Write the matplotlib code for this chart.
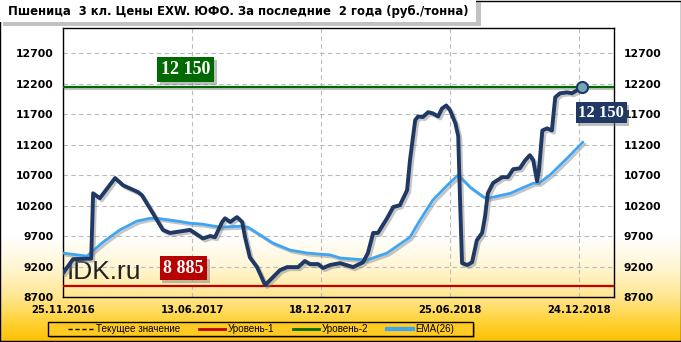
import numpy as np
import matplotlib.pyplot as plt
import matplotlib.patheffects as pe
from matplotlib.colors import LinearSegmentedColormap
from matplotlib.lines import Line2D
from matplotlib.patches import Rectangle

plt.rcParams['font.family'] = ['DejaVu Sans']

# price, rub/t (x = week number from 25.11.2016)
price_week = [0, 2.1, 5.9, 6.3, 7.7, 10.9, 12.6, 15.7, 16.5, 18.8, 20.9, 22.4, 26.6,
              29.3, 30.8, 31.8, 33.3, 33.9, 35.0, 36.4, 37.5, 38.1, 39.1, 40.6, 42.3,
              44.0, 45.4, 46.9, 49.2, 50.6, 51.7, 53.4, 54.4, 55.9, 58.0, 60.7, 62.8,
              63.8, 64.9, 65.9, 67.8, 69.1, 70.5, 72.0, 72.6, 73.7, 74.3, 75.3, 76.4,
              77.4, 78.5, 79.3, 80.2, 81.0, 82.1, 82.7, 83.1, 83.5, 84.6, 85.6, 86.6,
              87.7, 88.3, 88.9, 90.0, 91.9, 93.1, 94.2, 95.6, 96.7, 97.7, 98.4, 99.2,
              99.6, 100.3, 101.3, 102.3, 103.0, 104.0, 105.5, 106.5, 107.6, 108.5]
price_val = [9090, 9320, 9330, 10400, 10320, 10650, 10530, 10420, 10370, 10075, 9800, 9750, 9800,
             9660, 9700, 9680, 9930, 9990, 9930, 10010, 9930, 9680, 9350, 9190, 8895,
             9030, 9140, 9190, 9190, 9290, 9240, 9240, 9175, 9225, 9255, 9190, 9270,
             9420, 9750, 9750, 9990, 10175, 10205, 10450, 10940, 11600, 11660, 11650, 11730,
             11710, 11660, 11790, 11840, 11760, 11550, 11340, 10240, 9255, 9225, 9270, 9630,
             9750, 10010, 10400, 10570, 10665, 10665, 10795, 10810, 10940, 11025, 10940, 10600,
             10780, 11430, 11465, 11430, 11975, 12040, 12055, 12040, 12090, 12150]

ema_week = [0, 5.0, 8.4, 11.9, 15.5, 18.2, 19.7, 23.9, 26.6, 29.1, 32.9, 37.1, 38.7,
            40.6, 43.9, 47.5, 51.1, 55.9, 58.0, 63.6, 67.8, 72.6, 74.7, 77.4, 80.4,
            82.7, 85.2, 88.0, 89.0, 93.6, 98.4, 99.6, 101.9, 105.5, 108.8]
ema_val = [9420, 9370, 9600, 9800, 9945, 9990, 9990, 9945, 9910, 9895, 9845, 9860, 9845,
           9750, 9585, 9470, 9420, 9390, 9340, 9305, 9420, 9680, 9960, 10290, 10530,
           10700, 10500, 10340, 10320, 10400, 10565, 10565, 10700, 10975, 11240]

level1 = 8885
level2 = 12150
current = 12150

tick_pos = [0, 27, 54, 81, 108]
tick_lab = ['25.11.2016', '13.06.2017', '18.12.2017', '25.06.2018', '24.12.2018']
y_ticks = [8700, 9200, 9700, 10200, 10700, 11200, 11700, 12200, 12700]

navy = '#1F3864'
ema_col = '#3DA5F4'
red = '#C00000'
green = '#006A00'

fig = plt.figure(figsize=(6.81, 3.42), dpi=100)

# background gradient white -> gold
bg = fig.add_axes([0, 0, 1, 1], zorder=-10)
grad = LinearSegmentedColormap.from_list('g', [(0, '#FFC000'), (0.06, '#FFD33A'),
                                                (0.13, '#FFE690'), (0.22, '#FFF6D5'),
                                                (0.31, '#FFFFFF'), (1, '#FFFFFF')])
bg.imshow(np.linspace(0, 1, 256).reshape(-1, 1), aspect='auto', cmap=grad,
          origin='lower', extent=[0, 1, 0, 1])
bg.set_xlim(0, 1)
bg.set_ylim(0, 1)
bg.axis('off')
bg.add_patch(Rectangle((0.0007, 0.0015), 0.9986, 0.997, fill=False, edgecolor='black', lw=1))

ax = fig.add_axes([63 / 681, 45 / 342, 551 / 681, 269 / 342])
ax.patch.set_alpha(0)

shadow = [pe.SimpleLineShadow(offset=(1.5, -1.5), shadow_color='gray', alpha=0.45), pe.Normal()]

ax.axhline(level1, color=red, lw=1.6, zorder=3)
ax.axhline(level2, color=green, lw=1.6, zorder=3, path_effects=shadow)
ax.plot(ema_week, ema_val, color=ema_col, lw=2.0, zorder=4,
        solid_capstyle='round', path_effects=shadow)
ax.plot(price_week, price_val, color=navy, lw=2.8, zorder=5,
        solid_joinstyle='round', solid_capstyle='round', path_effects=shadow)
ax.plot(price_week[-1], current, 'o', ms=8, mfc='#6FA8B8', mec=navy, mew=1.5, zorder=6)

ax.set_xlim(0, 115.3)
ax.set_ylim(8700, 13110)
ax.set_xticks(tick_pos)
ax.set_xticklabels(tick_lab)
ax.set_yticks(y_ticks)
ax.grid(True, color='#BBBBBB', ls=(0, (4, 3)), lw=0.8)
ax.tick_params(length=0, labelsize=7.8, labelright=True)
ax.tick_params(axis='y', pad=7)
ax.tick_params(axis='x', pad=6, labelsize=7.2)
for lab in ax.get_xticklabels() + ax.get_yticklabels():
    lab.set_fontweight('bold')
for s in ax.spines.values():
    s.set_color('black')
    s.set_linewidth(1)

box_shadow = [pe.withSimplePatchShadow(offset=(2, -2), shadow_rgbFace='gray', alpha=0.5)]

t = ax.text(25.7, 12423, '12 150', color='white', fontsize=13, fontweight='bold',
            family='Liberation Serif', ha='center', va='center', zorder=7,
            bbox=dict(boxstyle='square,pad=0.22', fc=green, ec='none'))
t.get_bbox_patch().set_path_effects(box_shadow)
t = ax.text(25.2, 9175, '8 885', color='white', fontsize=13, fontweight='bold',
            family='Liberation Serif', ha='center', va='center', zorder=7,
            bbox=dict(boxstyle='square,pad=0.2', fc='#B80000', ec='none'))
t.get_bbox_patch().set_path_effects(box_shadow)
t = ax.text(112.6, 11720, '12 150', color='white', fontsize=12, fontweight='bold',
            family='Liberation Serif', ha='center', va='center', zorder=7,
            bbox=dict(boxstyle='square,pad=0.15', fc=navy, ec='none'))
t.get_bbox_patch().set_path_effects(box_shadow)

ax.text(0.8, 9000, 'IDK.ru', fontsize=19, family='Liberation Sans', color='#222222',
        ha='left', va='baseline', zorder=2)

# title box
bg.add_patch(Rectangle((0.004, 0.925), 0.702, 0.07, fc='#999999', ec='none', alpha=0.6))
bg.add_patch(Rectangle((0.0007, 0.935), 0.698, 0.064, fc='white', ec='none'))
fig.text(0.012, 0.965, 'Пшеница  3 кл. Цены EXW. ЮФО. За последние  2 года (руб./тонна)',
         fontsize=8.4, fontweight='bold', va='center', ha='left')

# legend box with shadow
bg.add_patch(Rectangle((50 / 681, 4 / 342), 425 / 681, 14 / 342, fc='#8A7020', ec='none', alpha=0.55))
bg.add_patch(Rectangle((48 / 681, 6 / 342), 425 / 681, 14 / 342, fc=grad(13 / 342), ec='black', lw=1))

handles = [Line2D([], [], color='black', ls=(0, (3, 2)), lw=1),
           Line2D([], [], color=red, lw=2),
           Line2D([], [], color=green, lw=2),
           Line2D([], [], color=ema_col, lw=3)]
labels = ['Текущее значение', 'Уровень-1', 'Уровень-2', 'EMA(26)']
leg = fig.legend(handles, labels, ncol=4, loc='center', bbox_to_anchor=(261 / 681, 13 / 342),
                 prop={'family': 'Liberation Sans', 'size': 7.1}, frameon=False,
                 handlelength=2.6, handletextpad=0.3, columnspacing=1.9, borderpad=0)

fig.savefig('out.png', dpi=100)
